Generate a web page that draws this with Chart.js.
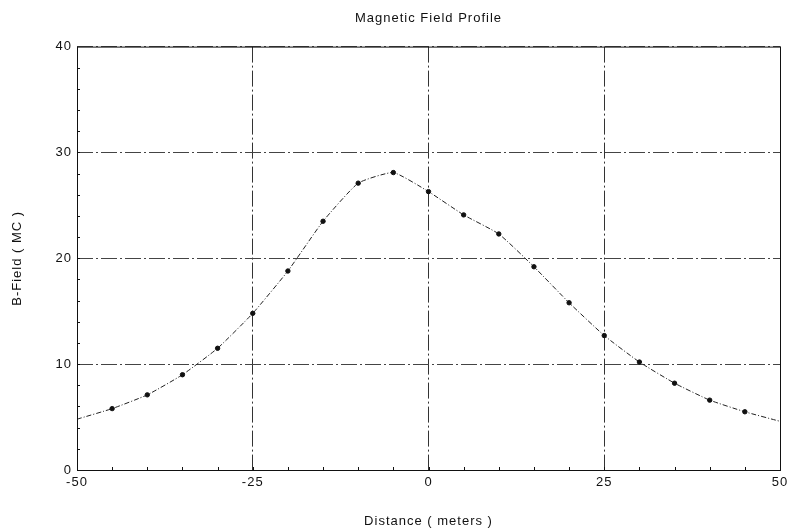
<!DOCTYPE html>
<html>
<head>
<meta charset="utf-8">
<script src="https://cdn.jsdelivr.net/npm/chart.js@4/dist/chart.umd.min.js"></script>
<style>
  html, body { margin: 0; padding: 0; background: #fff; }
  #wrap { width: 789px; height: 532px; }
</style>
</head>
<body>
<div id="wrap"><canvas id="field"></canvas></div>
<script>
'use strict';

// distance along the profile (meters)
const distance = [-50, -45, -40, -35, -30, -25, -20, -15, -10, -5, 0, 5, 10, 15, 20, 25, 30, 35, 40, 45, 50];
// measured B-field (MC)
const bField = [4.8, 5.8, 7.1, 9.0, 11.5, 14.8, 18.8, 23.5, 27.1, 28.1, 26.3, 24.1, 22.3, 19.2, 15.8, 12.7, 10.2, 8.2, 6.6, 5.5, 4.6];

const xTicks = [-50, -25, 0, 25, 50];
const yTicks = [0, 10, 20, 30, 40];

const points = distance.map((d, i) => ({ x: d, y: bField[i] }));

const font = 'Liberation Sans, Arial, sans-serif';

// the scanned original has slightly wide lettering
const spacingPlugin = {
  id: 'spacing',
  beforeUpdate(chart) { chart.ctx.letterSpacing = '1px'; },
  beforeDraw(chart) { chart.ctx.letterSpacing = '1px'; }
};

// solid frame + small minor ticks on the axes
const framePlugin = {
  id: 'frame',
  afterDraw(chart) {
    let ctx = chart.ctx;
    let a = chart.chartArea;
    let xs = chart.scales.x;
    let ys = chart.scales.y;
    ctx.save();
    ctx.strokeStyle = '#111';
    ctx.lineWidth = 1;
    ctx.setLineDash([]);
    ctx.strokeRect(a.left + 0.5, a.top + 0.5, a.right - a.left, a.bottom - a.top);
    ctx.beginPath();
    for (let v = -45; v < 50; v += 5) {
      let px = Math.round(xs.getPixelForValue(v)) + 0.5;
      ctx.moveTo(px, a.bottom);
      ctx.lineTo(px, a.bottom - 3);
    }
    for (let v = 2; v < 40; v += 2) {
      let py = Math.round(ys.getPixelForValue(v)) + 0.5;
      ctx.moveTo(a.left, py);
      ctx.lineTo(a.left + 3, py);
    }
    ctx.stroke();
    ctx.restore();
  }
};

new Chart(document.getElementById('field'), {
  type: 'scatter',
  data: {
    datasets: [{
      data: points,
      showLine: true,
      borderColor: '#222',
      borderWidth: 1,
      borderDash: [5, 2, 1, 2],
      tension: 0.15,
      pointBackgroundColor: '#111',
      pointBorderColor: '#111',
      pointRadius: (c) => (c.raw && Math.abs(c.raw.x) === 50 ? 0 : 2.2),
      pointStyle: 'circle'
    }]
  },
  options: {
    responsive: true,
    maintainAspectRatio: false,
    animation: false,
    layout: { padding: { left: 0, right: 9, top: 0, bottom: 3 } },
    plugins: {
      legend: { display: false },
      tooltip: { enabled: false },
      title: {
        display: true,
        fullSize: false,
        text: 'Magnetic Field Profile',
        color: '#111',
        font: { family: font, size: 13, weight: 'normal' },
        padding: { top: 11, bottom: 20 }
      }
    },
    scales: {
      x: {
        type: 'linear',
        min: -50,
        max: 50,
        afterBuildTicks: (s) => { s.ticks = xTicks.map(v => ({ value: v })); },
        afterFit: (s) => { s.height = 59; s.paddingRight = 0; s.paddingLeft = 0; },
        ticks: {
          color: '#111',
          font: { family: font, size: 13 },
          padding: 5
        },
        grid: {
          color: '#333',
          lineWidth: 1,
          drawTicks: false
        },
        border: { display: false, dash: [16, 3, 2, 3] },
        title: {
          display: true,
          text: 'Distance ( meters )',
          color: '#111',
          font: { family: font, size: 13 },
          padding: { top: 0, bottom: 0 }
        }
      },
      y: {
        min: 0,
        max: 40,
        afterBuildTicks: (s) => { s.ticks = yTicks.map(v => ({ value: v })); },
        afterFit: (s) => { s.width = 77; },
        ticks: {
          color: '#111',
          font: { family: font, size: 13 },
          padding: 5
        },
        grid: {
          color: '#444',
          lineWidth: 1,
          drawTicks: false
        },
        border: { display: false, dash: [16, 3, 2, 3] },
        title: {
          display: true,
          text: 'B-Field ( MC )',
          color: '#111',
          font: { family: font, size: 13 },
          padding: { top: 10, bottom: 0 }
        }
      }
    }
  },
  plugins: [spacingPlugin, framePlugin]
});
</script>
</body>
</html>
